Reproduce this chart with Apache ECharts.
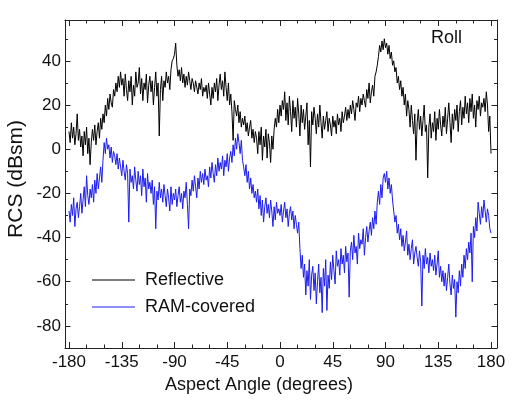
<!DOCTYPE html>
<html>
<head>
<meta charset="utf-8">
<script src="https://cdn.jsdelivr.net/npm/echarts@6/dist/echarts.min.js"></script>
<style>
html,body{margin:0;padding:0;background:#fff;}
#chart{width:518px;height:411px;}
</style>
</head>
<body>
<div id="chart"></div>
<script>
// ---- data (1 degree sampling) ----
var angleStart = -180, angleEnd = 180;
var xTicks = [-180, -135, -90, -45, 0, 45, 90, 135, 180];
var yTicks = [-80, -60, -40, -20, 0, 20, 40];
var seriesNames = ['Reflective', 'RAM-covered'];

var reflective = [
  8, 3, 12, 5, 10, 2, 7, 16, 4, 9,
  1, 6, -3, 8, 2, 10, -2, 5, -7, 3,
  9, 4, 11, 2, 8, 12, 5, 14, 9, 16,
  12, 20, 15, 23, 18, 25, 21, 19, 27, 24,
  30, 26, 33, 28, 35, 29, 32, 24, 34, 27,
  22, 31, 26, 33, 20, 29, 24, 35, 28, 30,
  37, 25, 32, 22, 30, 27, 34, 21, 29, 33,
  26, 31, 20, 28, 35, 24, 30, 6, 27, 33,
  22, 31, 28, 35, 30, 33, 27, 36, 40, 41,
  43, 48, 38, 33, 36, 31, 37, 30, 34, 28,
  33, 29, 35, 31, 27, 32, 30, 26, 31, 28,
  25, 30, 27, 32, 24, 28, 26, 29, 23, 30,
  25, 20, 28, 23, 30, 26, 32, 22, 29, 34,
  27, 31, 24, 35, 28, 22, 30, 20, 25, 17,
  4, 22, 18, 15, 20, 12, 17, 10, 14, 11,
  15, 8, 12, 6, 10, 13, 5, 9, 3, 8,
  5, -2, 8, 2, 10, -5, 6, 1, 9, -4,
  7, 3, -6, 6, 0, 9, 14, 10, 18, 12,
  20, 15, 22, 18, 26, 13, 21, 11, 24, 17,
  8, 22, 14, 19, 10, 23, 16, 6, 20, 12,
  18, 9, 15, 21, 2, 13, -8, 17, 11, 19,
  14, 7, 16, 10, 20, 12, 5, 15, 9, 13,
  17, 8, 14, 11, 6, 15, 10, 13, 7, 16,
  11, 14, 8, 17, 12, 15, 19, 13, 18, 14,
  20, 16, 22, 18, 13, 21, 19, 24, 17, 23,
  20, 25, 22, 19, 27, 23, 30, 21, 26, 29,
  24, 33, 35, 38, 42, 47, 44, 49, 45, 50,
  46, 48, 43, 47, 41, 44, 38, 40, 35, 37,
  30, 33, 27, 31, 24, 28, 20, 25, 15, 22,
  18, 10, 20, 13, 7, 16, -5, 12, 18, 9,
  15, 6, 13, 20, 8, 11, -13, 10, 16, 5,
  12, 8, 17, 4, 14, 9, 18, 11, 6, 15,
  10, 19, 7, 14, 21, 12, 3, 16, 9, 18,
  13, 20, 8, 17, 22, 11, 19, 14, 24, 16,
  21, 12, 23, 17, 25, 14, 20, 10, 22, 18,
  24, 15, 21, 19, 23, 17, 26, 20, 8, 15,
  -2
];

var ramCovered = [
  -28, -33, -25, -30, -22, -35, -27, -24, -31, -26,
  -20, -29, -23, -17, -26, -12, -21, -25, -18, -22,
  -16, -24, -14, -20, -11, -18, -13, -8, -15, -5,
  3, -2, 5, 0, 2, -4, 1, -6, -1, -3,
  -7, -2, -9, -4, -8, -12, -5, -10, -14, -7,
  -11, -33, -9, -15, -12, -18, -8, -14, -19, -10,
  -16, -12, -21, -9, -17, -13, -24, -11, -18, -15,
  -20, -14, -25, -17, -36, -19, -23, -15, -22, -18,
  -24, -16, -21, -26, -18, -22, -28, -17, -25, -20,
  -23, -18, -26, -21, -17, -24, -20, -27, -19, -22,
  -15, -25, -36, -18, -21, -14, -19, -12, -17, -22,
  -13, -18, -10, -15, -11, -16, -9, -14, -12, -17,
  -8, -13, -6, -11, -15, -7, -12, -4, -10, -6,
  -9, -3, -12, -5, -8, -2, -10, -4, -1, -6,
  2, -3, 5, 0, 7, 3, -2, 4, -5, -8,
  -12, -7, -15, -10, -18, -13, -20, -16, -22, -19,
  -24, -18, -27, -21, -30, -23, -33, -26, -22, -29,
  -25, -31, -23, -28, -35, -26, -32, -24, -29, -27,
  -30, -25, -33, -28, -24, -31, -27, -35, -29, -26,
  -32, -28, -36, -30, -34, -38, -33, -45, -54, -48,
  -58, -52, -66, -55, -62, -50, -68, -57, -53, -64,
  -56, -70, -60, -52, -65, -58, -74, -54, -62, -50,
  -73, -57, -63, -51, -59, -48, -55, -61, -46, -53,
  -50, -57, -45, -52, -48, -56, -44, -51, -47, -67,
  -46, -42, -50, -39, -47, -44, -52, -38, -45, -41,
  -43, -36, -48, -40, -35, -42, -37, -33, -39, -31,
  -36, -28, -34, -24, -19, -25, -16, -22, -13, -11,
  -15, -10, -18, -13, -20, -16, -23, -28, -33, -30,
  -38, -34, -41, -36, -44, -39, -46, -42, -37, -48,
  -43, -50, -45, -41, -52, -47, -44, -49, -53, -46,
  -51, -71, -48, -54, -45, -52, -49, -56, -47, -53,
  -50, -55, -48, -57, -52, -46, -58, -53, -60, -55,
  -62, -56, -64, -58, -52, -61, -66, -57, -63, -59,
  -76, -60, -65, -55, -62, -52, -58, -48, -54, -45,
  -50, -42, -47, -38, -60, -35, -40, -31, -37, -24,
  -29, -34, -26, -31, -23, -28, -33, -27, -30, -36,
  -38
];

// ---- layout / style ----
var FONT = "'Liberation Sans', Arial, sans-serif";
var TXT = '#111';
var AX = '#222';
var BLUE = '#1c1cee';
var yMin = -90, yMax = 58.5;
var gTop = 20, gHeight = 328;
function py(v) { return gTop + (yMax - v) / (yMax - yMin) * gHeight; }
var majTop = py(yTicks[yTicks.length - 1]);
var majBottom = 411 - py(yTicks[0]);

var angles = [];
for (var a = angleStart; a <= angleEnd; a++) angles.push(a);
function pairs(vals) {
  var out = [];
  for (var i = 0; i < Math.min(vals.length, angles.length); i++) out.push([angles[i], vals[i]]);
  return out;
}

var lineAx = { show: true, onZero: false, lineStyle: { color: AX, width: 1 } };
var noLine = { show: false, onZero: false };
var noSplit = { show: false };
function tick(len) { return { show: true, inside: true, length: len, lineStyle: { color: AX, width: 1 } }; }

var option = {
  animation: false,
  backgroundColor: '#fff',
  title: {
    text: 'Roll', left: 431, top: 29, padding: 0,
    textStyle: { fontFamily: FONT, fontSize: 18, fontWeight: 'normal', color: TXT }
  },
  legend: {
    data: [{ name: seriesNames[0], icon: 'rect' }, { name: seriesNames[1], icon: 'rect' }],
    orient: 'vertical', left: 92, top: 271, padding: 0,
    itemWidth: 43, itemHeight: 1, itemGap: 9,
    textStyle: { fontFamily: FONT, fontSize: 18, color: TXT, padding: [0, 0, 0, 5] }
  },
  grid: [
    { left: 65, right: 21, top: gTop, height: gHeight, containLabel: false, outerBoundsMode: 'none' },
    { left: 69, right: 27, top: gTop, height: gHeight, containLabel: false, outerBoundsMode: 'none' },
    { left: 69, right: 27, top: gTop, height: gHeight, containLabel: false, outerBoundsMode: 'none' },
    { left: 65, right: 21, top: majTop, bottom: majBottom, containLabel: false, outerBoundsMode: 'none' }
  ],
  xAxis: [
    // frame
    { gridIndex: 0, type: 'value', position: 'bottom', min: -184, max: 184, axisLine: lineAx,
      axisTick: { show: false }, axisLabel: { show: false }, splitLine: noSplit },
    { gridIndex: 0, type: 'value', position: 'top', min: -184, max: 184, axisLine: lineAx,
      axisTick: { show: false }, axisLabel: { show: false }, splitLine: noSplit },
    // data grid, major ticks + labels
    { gridIndex: 1, type: 'value', position: 'bottom', min: xTicks[0], max: xTicks[xTicks.length - 1], interval: 45,
      axisLine: noLine, axisTick: tick(6),
      axisLabel: { show: true, margin: 6, fontFamily: FONT, fontSize: 17, color: TXT,
        showMinLabel: true, showMaxLabel: true },
      splitLine: noSplit,
      name: 'Aspect Angle (degrees)', nameLocation: 'middle', nameGap: 27,
      nameTextStyle: { fontFamily: FONT, fontSize: 18, color: TXT, padding: [0, 42, 0, 0] } },
    { gridIndex: 1, type: 'value', position: 'top', min: xTicks[0], max: xTicks[xTicks.length - 1], interval: 45,
      axisLine: noLine, axisTick: tick(6), axisLabel: { show: false }, splitLine: noSplit },
    // minor x ticks
    { gridIndex: 2, type: 'value', position: 'bottom', min: angleStart, max: angleEnd, interval: 15,
      axisLine: noLine, axisTick: tick(3.5), axisLabel: { show: false }, splitLine: noSplit },
    { gridIndex: 2, type: 'value', position: 'top', min: angleStart, max: angleEnd, interval: 15,
      axisLine: noLine, axisTick: tick(3.5), axisLabel: { show: false }, splitLine: noSplit },
    // major-y grid helper
    { gridIndex: 3, type: 'value', show: false, min: 0, max: 1 }
  ],
  yAxis: [
    // frame with minor ticks
    { gridIndex: 0, type: 'value', position: 'left', min: yMin, max: yMax, interval: 10,
      axisLine: lineAx, axisTick: tick(3), axisLabel: { show: false }, splitLine: noSplit,
      name: 'RCS (dBsm)', nameLocation: 'middle', nameGap: 38, nameRotate: 90,
      nameTextStyle: { fontFamily: FONT, fontSize: 21, color: TXT, padding: [0, 0, 0, 10] } },
    { gridIndex: 0, type: 'value', position: 'right', min: yMin, max: yMax, interval: 10,
      axisLine: lineAx, axisTick: tick(3), axisLabel: { show: false }, splitLine: noSplit },
    // data y axes (hidden)
    { gridIndex: 1, type: 'value', show: false, min: yMin, max: yMax },
    { gridIndex: 2, type: 'value', show: false, min: yMin, max: yMax },
    // major y ticks + labels
    { gridIndex: 3, type: 'value', position: 'left', min: yTicks[0], max: yTicks[yTicks.length - 1], interval: 20,
      axisLine: noLine, axisTick: tick(5.5),
      axisLabel: { show: true, margin: 4, fontFamily: FONT, fontSize: 17, color: TXT },
      splitLine: noSplit },
    { gridIndex: 3, type: 'value', position: 'right', min: yTicks[0], max: yTicks[yTicks.length - 1], interval: 20,
      axisLine: noLine, axisTick: tick(5.5), axisLabel: { show: false }, splitLine: noSplit }
  ],
  series: [
    { name: seriesNames[0], type: 'line', xAxisIndex: 2, yAxisIndex: 2, data: pairs(reflective),
      symbol: 'none', showSymbol: false, clip: true,
      lineStyle: { color: '#000', width: 1 }, itemStyle: { color: '#000' } },
    { name: seriesNames[1], type: 'line', xAxisIndex: 2, yAxisIndex: 2, data: pairs(ramCovered),
      symbol: 'none', showSymbol: false, clip: true,
      lineStyle: { color: BLUE, width: 1 }, itemStyle: { color: BLUE } }
  ]
};

var chart = echarts.init(document.getElementById('chart'), null, { renderer: 'canvas' });
chart.setOption(option);
</script>
</body>
</html>
